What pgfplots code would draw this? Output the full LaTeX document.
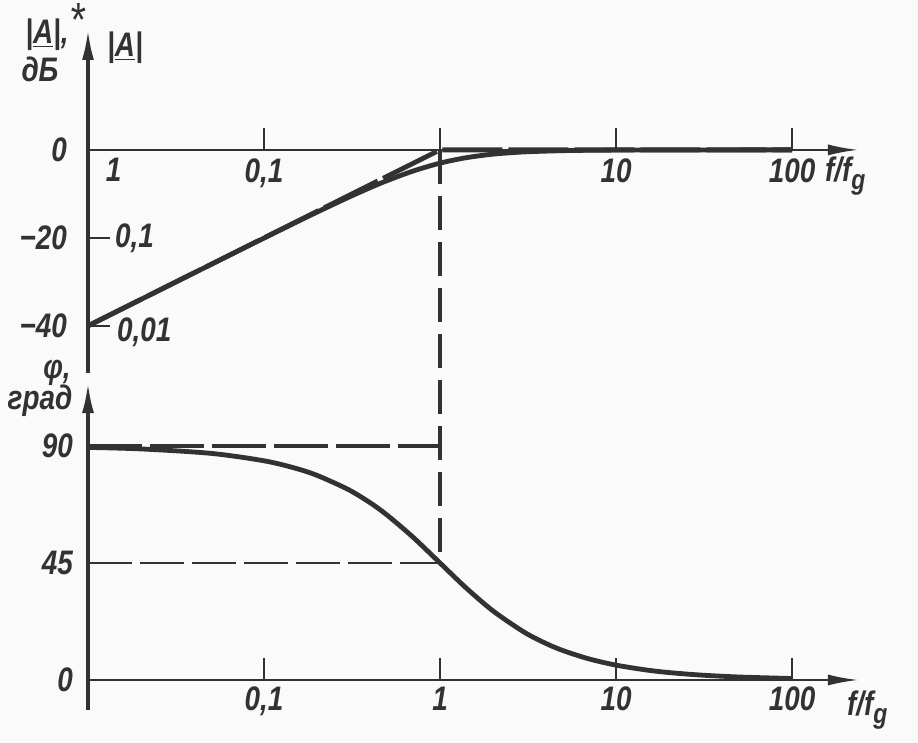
\documentclass[border=0pt]{standalone}
\usepackage{fontspec}
\setmainfont{Liberation Sans}[FakeStretch=0.82]
\usepackage{pgfplots}
\pgfplotsset{compat=1.18}
\usetikzlibrary{arrows.meta}
\definecolor{ink}{RGB}{50,50,50}
\definecolor{paper}{RGB}{250,250,250}
\newcommand{\lab}{\fontsize{17}{20}\selectfont\bfseries\itshape}

% |A| in dB, f/fg
\pgfplotstableread{
f dB
0.01 -40.00
0.015 -36.48
0.02 -33.98
0.03 -30.46
0.05 -26.03
0.07 -23.12
0.1 -20.04
0.15 -16.57
0.2 -14.15
0.3 -10.83
0.4 -8.60
0.5 -6.99
0.7 -4.83
1 -3.01
1.4 -1.79
2 -0.97
3 -0.46
5 -0.17
7 -0.09
10 -0.04
20 -0.01
50 0.00
100 0.00
}\ampltab

% phase in degrees
\pgfplotstableread{
f phi
0.01 89.43
0.02 88.85
0.05 87.14
0.1 84.29
0.15 81.47
0.2 78.69
0.3 73.30
0.4 68.20
0.5 63.43
0.7 55.01
1 45.00
1.4 35.54
2 26.57
3 18.43
4 14.04
5 11.31
7 8.13
10 5.71
15 3.81
20 2.86
30 1.91
50 1.15
100 0.57
}\phasetab

\pgfplotsset{
  every axis/.append style={
    scale only axis, width=385pt,
    xmin=0.01, xmax=237,
    axis x line=middle, axis y line=left,
    x axis line style={ink, line width=1pt, -{Latex[length=15pt,width=5.5pt]}},
    y axis line style={ink, line width=1.6pt, -{Latex[length=15pt,width=6pt]}},
    xtick={0.1,1,10,100}, xminorticks=false,
    tick style={ink, line width=1pt},
    major tick length=11pt,
    tick align=inside,
    every tick label/.append style={font=\lab, text=ink},
    clip=false,
  },
}

\begin{document}
\begin{tikzpicture}[font=\lab]
\useasboundingbox (0,0) rectangle (459pt,-371.5pt);
\fill[paper] (0,0) rectangle (459pt,-371.5pt);

\begin{semilogxaxis}[at={(44pt,-186.5pt)}, anchor=south west,
  height=171.5pt, ymin=-50.7, ymax=27.25,
  ytick={-40,-20,0}, yticklabels={{\textit{−40}},{\textit{−20}},{\textit{0}}},
  yticklabel style={xshift=-7pt},
  xticklabels={{\textit{0,1}},{},{\textit{10}},{\textit{100}}},
  xticklabel style={yshift=-1pt},
]
  % guide at f = fg, down to the 45 degree point
  \addplot[ink, line width=1.8pt, dash pattern=on 17pt off 6pt] coordinates {(1,0) (1,-93.9)};
  \addplot[ink, line width=2.4pt, smooth] table[x=f, y=dB] {\ampltab};
  \addplot[ink, line width=2.4pt, dash pattern=on 30pt off 3pt] coordinates {(0.01,-40) (1,0) (100,0)};
  \node[text=ink, anchor=center] at (axis cs:0.014,-4.6) {1};
  \node[text=ink, anchor=west, xshift=10pt] at (axis cs:0.01,-20) {0,1};
  \node[text=ink, anchor=west, xshift=11pt, yshift=-3pt] at (axis cs:0.01,-40) {0,01};
\end{semilogxaxis}

\begin{semilogxaxis}[at={(44pt,-355pt)}, anchor=south west,
  height=163.5pt, ymin=-11.54, ymax=114.2,
  ytick={0,45,90}, yticklabels={{\textit{0}},{\textit{45}},{\textit{90}}},
  yticklabel style={xshift=-4pt},
  xticklabels={{\textit{0,1}},{\textit{1}},{\textit{10}},{\textit{100}}},
]
  \addplot[ink, line width=1.8pt, dash pattern=on 27pt off 4pt] coordinates {(0.01,90) (1,90)};
  \addplot[ink, line width=1.4pt, dash pattern=on 22pt off 4pt] coordinates {(0.01,45) (1,45)};
  \addplot[ink, line width=2.4pt, smooth] table[x=f, y=phi] {\phasetab};
\end{semilogxaxis}

% axis titles
\begin{scope}[text=ink]
\node at (23.5pt,-17.5pt) {|\underline{A}|,};
\node at (20pt,-34.5pt) {дБ};
\node at (38.5pt,-10pt) {\fontsize{24}{24}\selectfont\mdseries *};
\node at (62.5pt,-24pt) {|\underline{A}|};
\node at (409pt,-88pt) [anchor=west] {f/f\raisebox{-4pt}{\fontsize{14}{14}\selectfont g}};
\node at (28.5pt,-186.5pt) {φ,};
\node at (20pt,-200.5pt) {град};
\node at (420pt,-355pt) [anchor=west] {f/f\raisebox{-4pt}{\fontsize{14}{14}\selectfont g}};
\end{scope}
\end{tikzpicture}
\end{document}
